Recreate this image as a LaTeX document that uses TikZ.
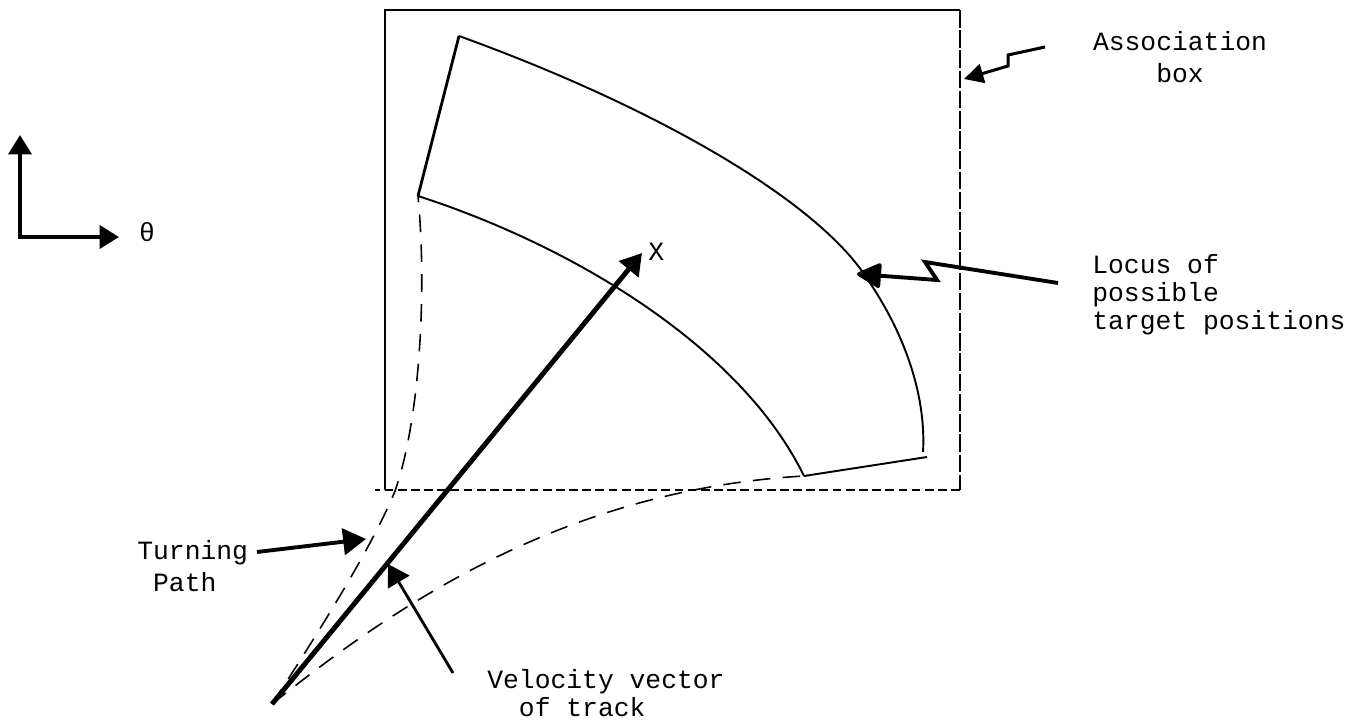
\documentclass[tikz,border=0pt]{standalone}
\usepackage{fontspec}
\setmonofont{Liberation Mono}
\usetikzlibrary{arrows.meta}

\begin{document}
\begin{tikzpicture}[x=0.02cm,y=-0.02cm,
  lbl/.style={font=\ttfamily\fontsize{15}{16}\selectfont,inner sep=0pt},
  edge/.style={line width=1.1pt},
  turnpath/.style={line width=0.9pt,dash pattern=on 10pt off 7pt},
  axis/.style={line width=2.3pt,-{Triangle[length=11pt,width=13pt]}},
  pointer/.style={line width=2pt}]
\useasboundingbox (0,0) rectangle (1364,726);

\coordinate (O) at (272,704);
\coordinate (Xtip) at (642,253);
\coordinate (A) at (459,36);
\coordinate (B) at (418,196);
\coordinate (C) at (804,476);
\coordinate (D) at (927,457);
\coordinate (Dend) at (923,452);
\coordinate (boxNW) at (385,10);
\coordinate (boxNE) at (960,10);
\coordinate (boxSE) at (960,490);
\coordinate (boxSW) at (385,490);
\coordinate (ax0) at (20,237);
\coordinate (axUp) at (20,135);
\coordinate (axRight) at (119,237);

\node[lbl] (theta) at (147,232) {θ};
\node[lbl,anchor=west] (xlbl) at (648,252) {X};
\node[lbl,align=center] (assoc) at (1180,57) {Association\\[2.5pt]box};
\node[lbl,align=left,anchor=west] (locus) at (1092,295) {Locus of\\possible\\target positions};
\node[lbl,align=left,anchor=west] (turn) at (137,566) {Turning\\[2pt]\hspace*{0.6em}Path};
\node[lbl,align=left,anchor=west] (vel) at (487,693) {Velocity vector\\\hspace*{1.2em}of track};

\coordinate (assocTail) at (1045,47);
\coordinate (assocTip) at (964,79);
\coordinate (locusTail) at (1058,283);
\coordinate (locusTip) at (857,274);
\coordinate (turnTail) at (257,552);
\coordinate (turnTip) at (366,539);
\coordinate (velTail) at (453,673);
\coordinate (velTip) at (388,564);

\draw[axis] (ax0) -- (axUp);
\draw[axis] ([xshift=-1.1pt]ax0) -- (axRight);

\draw[line width=1.1pt] (boxSW) -- (boxNW) -- (boxNE);
\draw[line width=0.8pt,dash pattern=on 10pt off 1.5pt] (boxNE) -- (boxSE);
\draw[line width=1pt,dash pattern=on 5pt off 2.5pt] (boxSE) -- ([xshift=-10*0.02cm]boxSW);

\draw[line width=1.6pt] (A) -- (B);
\draw[edge] (B) .. controls (570,245) and (740,345) .. (C);
\draw[edge] (A) .. controls (650,105) and (820,200) .. (870,283) .. controls (908,340) and (926,400) .. (Dend);
\draw[edge] (C) -- (D);

\draw[turnpath] (O) .. controls (330,615) and (375,540) .. (395,491) .. controls (420,420) and (427,290) .. (B);
\draw[turnpath] (O) .. controls (390,610) and (560,490) .. (C);

\draw[line width=2.8pt,-{Triangle[length=12pt,width=14pt]}] (O) -- (Xtip);

\draw[pointer,line width=1.7pt,-{Triangle[length=11pt,width=11pt]}] (assocTail) -- (1008,55) -- (1008,66) -- (assocTip);
\draw[pointer,line width=2.2pt,-{Triangle[length=15pt,width=15pt,round]}] (locusTail) -- (925,262) -- (937,280) -- (locusTip);
\draw[pointer,line width=2.2pt,-{Triangle[length=13pt,width=15pt]}] (turnTail) -- (turnTip);
\draw[pointer,line width=1.6pt,-{Triangle[length=12pt,width=14pt]}] (velTail) -- (velTip);
\end{tikzpicture}
\end{document}
